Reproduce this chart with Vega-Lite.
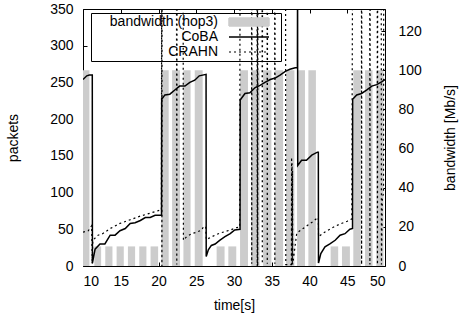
{
  "$schema": "https://vega.github.io/schema/vega-lite/v6.json",
  "width": 302,
  "height": 257,
  "autosize": "none",
  "padding": {"left": 83, "top": 9, "right": 75, "bottom": 49},
  "background": "white",
  "config": {
    "view": {"stroke": "black", "strokeWidth": 1},
    "axis": {
      "grid": false, "domain": false,
      "labelFont": "Liberation Sans", "labelFontSize": 14, "labelColor": "black",
      "titleFont": "Liberation Sans", "titleFontSize": 14, "titleFontWeight": "normal", "titleColor": "black",
      "tickColor": "black", "tickSize": -4, "tickWidth": 1
    },
    "legend": {
      "padding": 2, "rowPadding": 1, "strokeColor": "black", "strokeWidth": 1,
      "labelFont": "Liberation Sans", "labelFontSize": 14, "labelColor": "black",
      "labelAlign": "right", "labelOffset": -38, "symbolOffset": 149, "symbolSize": 100, "labelLimit": 0
    }
  },
  "datasets": {
    "bw": [
      {"t0": 9.95, "t1": 10.85, "bw": 100, "series": "bandwidth (hop3)"},
      {"t0": 11.5, "t1": 12.4, "bw": 10, "series": "bandwidth (hop3)"},
      {"t0": 12.95, "t1": 13.9, "bw": 10, "series": "bandwidth (hop3)"},
      {"t0": 14.45, "t1": 15.4, "bw": 10, "series": "bandwidth (hop3)"},
      {"t0": 15.95, "t1": 16.9, "bw": 10, "series": "bandwidth (hop3)"},
      {"t0": 17.45, "t1": 18.4, "bw": 10, "series": "bandwidth (hop3)"},
      {"t0": 18.95, "t1": 19.95, "bw": 10, "series": "bandwidth (hop3)"},
      {"t0": 20.4, "t1": 21.35, "bw": 100, "series": "bandwidth (hop3)"},
      {"t0": 21.8, "t1": 22.85, "bw": 100, "series": "bandwidth (hop3)"},
      {"t0": 23.3, "t1": 24.25, "bw": 100, "series": "bandwidth (hop3)"},
      {"t0": 24.8, "t1": 25.85, "bw": 100, "series": "bandwidth (hop3)"},
      {"t0": 27.7, "t1": 28.75, "bw": 10, "series": "bandwidth (hop3)"},
      {"t0": 29.25, "t1": 30.3, "bw": 10, "series": "bandwidth (hop3)"},
      {"t0": 30.8, "t1": 31.85, "bw": 100, "series": "bandwidth (hop3)"},
      {"t0": 32.3, "t1": 33.4, "bw": 100, "series": "bandwidth (hop3)"},
      {"t0": 33.85, "t1": 34.95, "bw": 100, "series": "bandwidth (hop3)"},
      {"t0": 35.4, "t1": 36.5, "bw": 100, "series": "bandwidth (hop3)"},
      {"t0": 36.9, "t1": 38.0, "bw": 100, "series": "bandwidth (hop3)"},
      {"t0": 38.35, "t1": 39.4, "bw": 100, "series": "bandwidth (hop3)"},
      {"t0": 39.85, "t1": 40.85, "bw": 100, "series": "bandwidth (hop3)"},
      {"t0": 42.8, "t1": 43.8, "bw": 10, "series": "bandwidth (hop3)"},
      {"t0": 44.3, "t1": 45.35, "bw": 10, "series": "bandwidth (hop3)"},
      {"t0": 45.8, "t1": 46.8, "bw": 100, "series": "bandwidth (hop3)"},
      {"t0": 47.35, "t1": 48.35, "bw": 100, "series": "bandwidth (hop3)"},
      {"t0": 48.85, "t1": 49.8, "bw": 100, "series": "bandwidth (hop3)"}
    ],
    "coba": [
      {"t": 10.0, "p": 254, "series": "CoBA"},
      {"t": 10.5, "p": 259, "series": "CoBA"},
      {"t": 10.85, "p": 260, "series": "CoBA"},
      {"t": 11.23, "p": 260, "series": "CoBA"},
      {"t": 11.25, "p": 4, "series": "CoBA"},
      {"t": 11.6, "p": 23, "series": "CoBA"},
      {"t": 12.25, "p": 30, "series": "CoBA"},
      {"t": 12.9, "p": 30, "series": "CoBA"},
      {"t": 13.6, "p": 42, "series": "CoBA"},
      {"t": 14.25, "p": 42, "series": "CoBA"},
      {"t": 14.9, "p": 48, "series": "CoBA"},
      {"t": 15.6, "p": 51, "series": "CoBA"},
      {"t": 16.25, "p": 58, "series": "CoBA"},
      {"t": 16.9, "p": 59, "series": "CoBA"},
      {"t": 17.6, "p": 62, "series": "CoBA"},
      {"t": 18.25, "p": 66, "series": "CoBA"},
      {"t": 18.9, "p": 66, "series": "CoBA"},
      {"t": 19.55, "p": 69, "series": "CoBA"},
      {"t": 20.4, "p": 69, "series": "CoBA"},
      {"t": 20.42, "p": 227, "series": "CoBA"},
      {"t": 20.85, "p": 233, "series": "CoBA"},
      {"t": 21.5, "p": 234, "series": "CoBA"},
      {"t": 22.2, "p": 240, "series": "CoBA"},
      {"t": 22.8, "p": 245, "series": "CoBA"},
      {"t": 23.5, "p": 245, "series": "CoBA"},
      {"t": 24.15, "p": 250, "series": "CoBA"},
      {"t": 24.8, "p": 253, "series": "CoBA"},
      {"t": 25.4, "p": 259, "series": "CoBA"},
      {"t": 26.3, "p": 261, "series": "CoBA"},
      {"t": 26.32, "p": 13, "series": "CoBA"},
      {"t": 26.6, "p": 22, "series": "CoBA"},
      {"t": 27.0, "p": 28, "series": "CoBA"},
      {"t": 27.5, "p": 30, "series": "CoBA"},
      {"t": 28.1, "p": 35, "series": "CoBA"},
      {"t": 28.8, "p": 40, "series": "CoBA"},
      {"t": 29.5, "p": 44, "series": "CoBA"},
      {"t": 30.1, "p": 49, "series": "CoBA"},
      {"t": 30.8, "p": 50, "series": "CoBA"},
      {"t": 30.82, "p": 226, "series": "CoBA"},
      {"t": 31.45, "p": 235, "series": "CoBA"},
      {"t": 32.1, "p": 236, "series": "CoBA"},
      {"t": 32.8, "p": 243, "series": "CoBA"},
      {"t": 33.45, "p": 246, "series": "CoBA"},
      {"t": 34.1, "p": 250, "series": "CoBA"},
      {"t": 34.8, "p": 254, "series": "CoBA"},
      {"t": 35.45, "p": 256, "series": "CoBA"},
      {"t": 36.1, "p": 260, "series": "CoBA"},
      {"t": 36.8, "p": 265, "series": "CoBA"},
      {"t": 37.4, "p": 268, "series": "CoBA"},
      {"t": 38.1, "p": 270, "series": "CoBA"},
      {"t": 38.4, "p": 270, "series": "CoBA"},
      {"t": 38.42, "p": 400, "series": "CoBA"},
      {"t": 38.44, "p": 137, "series": "CoBA"},
      {"t": 38.95, "p": 144, "series": "CoBA"},
      {"t": 39.6, "p": 144, "series": "CoBA"},
      {"t": 40.3, "p": 151, "series": "CoBA"},
      {"t": 41.05, "p": 155, "series": "CoBA"},
      {"t": 41.17, "p": 155, "series": "CoBA"},
      {"t": 41.19, "p": 4, "series": "CoBA"},
      {"t": 41.5, "p": 17, "series": "CoBA"},
      {"t": 42.05, "p": 26, "series": "CoBA"},
      {"t": 42.7, "p": 30, "series": "CoBA"},
      {"t": 43.4, "p": 35, "series": "CoBA"},
      {"t": 44.05, "p": 42, "series": "CoBA"},
      {"t": 44.7, "p": 44, "series": "CoBA"},
      {"t": 45.35, "p": 50, "series": "CoBA"},
      {"t": 45.7, "p": 51, "series": "CoBA"},
      {"t": 45.72, "p": 227, "series": "CoBA"},
      {"t": 46.25, "p": 233, "series": "CoBA"},
      {"t": 46.9, "p": 235, "series": "CoBA"},
      {"t": 47.6, "p": 240, "series": "CoBA"},
      {"t": 48.25, "p": 245, "series": "CoBA"},
      {"t": 48.9, "p": 247, "series": "CoBA"},
      {"t": 49.6, "p": 251, "series": "CoBA"},
      {"t": 50.0, "p": 254, "series": "CoBA"}
    ],
    "crahn": [
      {"t": 10.0, "p": 46, "series": "CRAHN"},
      {"t": 10.7, "p": 48, "series": "CRAHN"},
      {"t": 11.15, "p": 55, "series": "CRAHN"},
      {"t": 11.22, "p": 3, "series": "CRAHN"},
      {"t": 11.3, "p": 35, "series": "CRAHN"},
      {"t": 12.0, "p": 42, "series": "CRAHN"},
      {"t": 12.6, "p": 44, "series": "CRAHN"},
      {"t": 13.6, "p": 51, "series": "CRAHN"},
      {"t": 14.9, "p": 58, "series": "CRAHN"},
      {"t": 16.25, "p": 63, "series": "CRAHN"},
      {"t": 17.6, "p": 68, "series": "CRAHN"},
      {"t": 18.9, "p": 72, "series": "CRAHN"},
      {"t": 20.2, "p": 76, "series": "CRAHN"},
      {"t": 20.38, "p": 76, "series": "CRAHN"},
      {"t": 20.42, "p": 400, "series": "CRAHN"},
      {"t": 20.45, "p": 0, "series": "CRAHN"},
      {"t": 20.48, "p": 400, "series": "CRAHN"},
      {"t": 22.38, "p": 400, "series": "CRAHN"},
      {"t": 22.42, "p": 2, "series": "CRAHN"},
      {"t": 22.46, "p": 400, "series": "CRAHN"},
      {"t": 23.26, "p": 400, "series": "CRAHN"},
      {"t": 23.3, "p": 35, "series": "CRAHN"},
      {"t": 23.73, "p": 40, "series": "CRAHN"},
      {"t": 24.4, "p": 44, "series": "CRAHN"},
      {"t": 25.06, "p": 46, "series": "CRAHN"},
      {"t": 25.72, "p": 49, "series": "CRAHN"},
      {"t": 25.93, "p": 53, "series": "CRAHN"},
      {"t": 26.25, "p": 54, "series": "CRAHN"},
      {"t": 26.33, "p": 36, "series": "CRAHN"},
      {"t": 26.9, "p": 39, "series": "CRAHN"},
      {"t": 27.5, "p": 42, "series": "CRAHN"},
      {"t": 28.2, "p": 45, "series": "CRAHN"},
      {"t": 28.85, "p": 47, "series": "CRAHN"},
      {"t": 29.5, "p": 49, "series": "CRAHN"},
      {"t": 30.25, "p": 52, "series": "CRAHN"},
      {"t": 30.75, "p": 53, "series": "CRAHN"},
      {"t": 30.8, "p": 400, "series": "CRAHN"},
      {"t": 32.32, "p": 400, "series": "CRAHN"},
      {"t": 32.35, "p": 3, "series": "CRAHN"},
      {"t": 32.38, "p": 400, "series": "CRAHN"},
      {"t": 33.05, "p": 400, "series": "CRAHN"},
      {"t": 33.08, "p": 0, "series": "CRAHN"},
      {"t": 33.11, "p": 400, "series": "CRAHN"},
      {"t": 33.14, "p": 0, "series": "CRAHN"},
      {"t": 33.17, "p": 400, "series": "CRAHN"},
      {"t": 33.72, "p": 400, "series": "CRAHN"},
      {"t": 33.75, "p": 3, "series": "CRAHN"},
      {"t": 33.78, "p": 400, "series": "CRAHN"},
      {"t": 34.38, "p": 400, "series": "CRAHN"},
      {"t": 34.41, "p": 3, "series": "CRAHN"},
      {"t": 34.44, "p": 400, "series": "CRAHN"},
      {"t": 35.38, "p": 400, "series": "CRAHN"},
      {"t": 35.41, "p": 3, "series": "CRAHN"},
      {"t": 35.44, "p": 400, "series": "CRAHN"},
      {"t": 36.83, "p": 400, "series": "CRAHN"},
      {"t": 36.86, "p": 2, "series": "CRAHN"},
      {"t": 37.6, "p": 2, "series": "CRAHN"},
      {"t": 37.63, "p": 148, "series": "CRAHN"},
      {"t": 37.66, "p": 2, "series": "CRAHN"},
      {"t": 37.69, "p": 140, "series": "CRAHN"},
      {"t": 37.72, "p": 2, "series": "CRAHN"},
      {"t": 37.75, "p": 130, "series": "CRAHN"},
      {"t": 37.78, "p": 2, "series": "CRAHN"},
      {"t": 38.3, "p": 44, "series": "CRAHN"},
      {"t": 38.35, "p": 45, "series": "CRAHN"},
      {"t": 39.0, "p": 50, "series": "CRAHN"},
      {"t": 39.7, "p": 55, "series": "CRAHN"},
      {"t": 40.4, "p": 60, "series": "CRAHN"},
      {"t": 41.1, "p": 66, "series": "CRAHN"},
      {"t": 41.17, "p": 66, "series": "CRAHN"},
      {"t": 41.2, "p": 40, "series": "CRAHN"},
      {"t": 42.0, "p": 46, "series": "CRAHN"},
      {"t": 43.0, "p": 52, "series": "CRAHN"},
      {"t": 44.0, "p": 57, "series": "CRAHN"},
      {"t": 45.0, "p": 61, "series": "CRAHN"},
      {"t": 45.6, "p": 64, "series": "CRAHN"},
      {"t": 45.7, "p": 400, "series": "CRAHN"},
      {"t": 46.88, "p": 400, "series": "CRAHN"},
      {"t": 46.9, "p": 2, "series": "CRAHN"},
      {"t": 46.93, "p": 400, "series": "CRAHN"},
      {"t": 47.98, "p": 400, "series": "CRAHN"},
      {"t": 48.0, "p": 2, "series": "CRAHN"},
      {"t": 48.03, "p": 400, "series": "CRAHN"},
      {"t": 48.97, "p": 400, "series": "CRAHN"},
      {"t": 49.0, "p": 2, "series": "CRAHN"},
      {"t": 49.03, "p": 400, "series": "CRAHN"},
      {"t": 49.5, "p": 400, "series": "CRAHN"},
      {"t": 49.53, "p": 2, "series": "CRAHN"},
      {"t": 49.65, "p": 90, "series": "CRAHN"},
      {"t": 49.8, "p": 100, "series": "CRAHN"},
      {"t": 49.83, "p": 400, "series": "CRAHN"},
      {"t": 50.0, "p": 400, "series": "CRAHN"}
    ]
  },
  "layer": [
    {
      "data": {"name": "bw"},
      "mark": {"type": "rect", "clip": true},
      "encoding": {
        "x": {"field": "t0", "type": "quantitative", "scale": {"domain": [10, 50], "nice": false, "zero": false},
              "axis": {"orient": "bottom", "values": [10, 15, 20, 25, 30, 35, 40, 45, 50], "title": "time[s]", "labelPadding": 12, "titlePadding": 10}},
        "x2": {"field": "t1"},
        "y": {"field": "bw", "type": "quantitative", "scale": {"domain": [0, 131.25], "nice": false},
              "axis": {"orient": "right", "values": [0, 20, 40, 60, 80, 100, 120], "title": "bandwidth [Mb/s]", "titleAngle": 270, "labelPadding": 17, "titlePadding": 36}},
        "y2": {"datum": 0},
        "color": {"field": "series", "type": "nominal",
                  "scale": {"domain": ["bandwidth (hop3)", "CoBA", "CRAHN"], "range": ["#cccccc", "#000000", "#000000"]},
                  "legend": {
                    "title": null, "orient": "none", "legendX": 8, "legendY": 4,
                    "encode": {"symbols": {"update": {
                      "shape": {"signal": "datum.value === 'bandwidth (hop3)' ? 'M-4,-0.8H4V0.8H-4ZM5.4,0' : 'M-4,0H4M5.4,0'"},
                      "fill": {"signal": "datum.value === 'bandwidth (hop3)' ? '#cccccc' : 'transparent'"},
                      "stroke": {"signal": "datum.value === 'bandwidth (hop3)' ? 'transparent' : '#000000'"},
                      "strokeDash": {"signal": "datum.value === 'CRAHN' ? [2, 3] : [1, 0]"},
                      "strokeWidth": {"signal": "datum.value === 'CRAHN' ? 1.2 : 1.5"},
                      "size": {"value": 100},
                      "opacity": {"value": 1}
                    }}}
                  }}
      }
    },
    {
      "data": {"name": "crahn"},
      "mark": {"type": "line", "clip": true, "strokeWidth": 1.2, "strokeDash": [2, 3]},
      "encoding": {
        "x": {"field": "t", "type": "quantitative", "scale": {"domain": [10, 50], "nice": false, "zero": false}, "axis": null},
        "y": {"field": "p", "type": "quantitative", "scale": {"domain": [0, 350], "nice": false}, "axis": null},
        "color": {"field": "series", "type": "nominal"}
      }
    },
    {
      "data": {"name": "coba"},
      "mark": {"type": "line", "clip": true, "strokeWidth": 1.5},
      "encoding": {
        "x": {"field": "t", "type": "quantitative", "scale": {"domain": [10, 50], "nice": false, "zero": false},
              "axis": {"orient": "top", "values": [10, 15, 20, 25, 30, 35, 40, 45, 50], "labels": false, "title": null}},
        "y": {"field": "p", "type": "quantitative", "scale": {"domain": [0, 350], "nice": false},
              "axis": {"orient": "left", "values": [0, 50, 100, 150, 200, 250, 300, 350], "title": "packets", "labelPadding": 14, "titlePadding": 29}},
        "color": {"field": "series", "type": "nominal"}
      }
    }
  ],
  "resolve": {"scale": {"y": "independent"}, "axis": {"x": "independent"}}
}
